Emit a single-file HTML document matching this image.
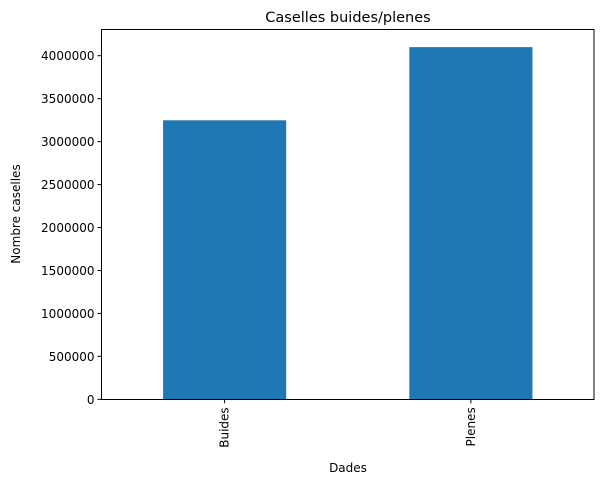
<!DOCTYPE html>
<html><head><meta charset="utf-8"><style>
body{margin:0;background:#fff;font-family:"Liberation Sans","DejaVu Sans",sans-serif;}
text{font-family:"DejaVu Sans","Liberation Sans",sans-serif;fill:#000;}
</style></head><body>
<svg id="chart" width="607" height="485" xmlns="http://www.w3.org/2000/svg">
<text x="348" y="22" font-size="14.5" text-anchor="middle">Caselles buides/plenes</text>
<g id="plot"></g>
<rect x="101.5" y="29.5" width="492.5" height="370" fill="none" stroke="#000" stroke-width="1"/>
<text x="348" y="472" font-size="12" text-anchor="middle">Dades</text>
<text transform="translate(20,214) rotate(-90)" font-size="12" text-anchor="middle">Nombre caselles</text>
</svg>
<script>
const categories = ["Buides", "Plenes"];
const values = [3248000, 4100000];
const yTicks = [0, 500000, 1000000, 1500000, 2000000, 2500000, 3000000, 3500000, 4000000];
const yTickLabels = ["0","500000","1000000","1500000","2000000","2500000","3000000","3500000","4000000"];

const NS = "http://www.w3.org/2000/svg";
const L = 101.5, R = 594, B = 399.3, T = 29.5;
const yMax = Math.max(...values) * 1.05;
const y = v => B - v / yMax * (B - T);
const xC = i => L + (i + 0.5) / categories.length * (R - L);
const bw = (R - L) / categories.length * 0.5;
const g = document.getElementById("plot");

values.forEach((v, i) => {
  const r = document.createElementNS(NS, "rect");
  r.setAttribute("x", xC(i) - bw / 2);
  r.setAttribute("y", y(v));
  r.setAttribute("width", bw);
  r.setAttribute("height", B - y(v));
  r.setAttribute("fill", "#1f77b4");
  
  
  g.appendChild(r);

  const t = document.createElementNS(NS, "line");
  t.setAttribute("x1", xC(i)); t.setAttribute("x2", xC(i));
  t.setAttribute("y1", B); t.setAttribute("y2", B + 4);
  t.setAttribute("stroke", "#000");
  
  
  g.appendChild(t);

  const lb = document.createElementNS(NS, "text");
  lb.setAttribute("transform", `translate(${xC(i) + 4},${B + 8}) rotate(-90)`);
  lb.setAttribute("font-size", "12");
  lb.setAttribute("text-anchor", "end");
  lb.textContent = categories[i];
  
  
  g.appendChild(lb);
});

yTicks.forEach((v, i) => {
  const t = document.createElementNS(NS, "line");
  t.setAttribute("x1", L - 4); t.setAttribute("x2", L);
  t.setAttribute("y1", y(v)); t.setAttribute("y2", y(v));
  t.setAttribute("stroke", "#000");
  
  
  g.appendChild(t);

  const lb = document.createElementNS(NS, "text");
  lb.setAttribute("x", L - 7);
  lb.setAttribute("y", y(v) + 4.5);
  lb.setAttribute("font-size", "12");
  lb.setAttribute("text-anchor", "end");
  lb.textContent = yTickLabels[i];
  
  
  g.appendChild(lb);
});
</script>
</body></html>
